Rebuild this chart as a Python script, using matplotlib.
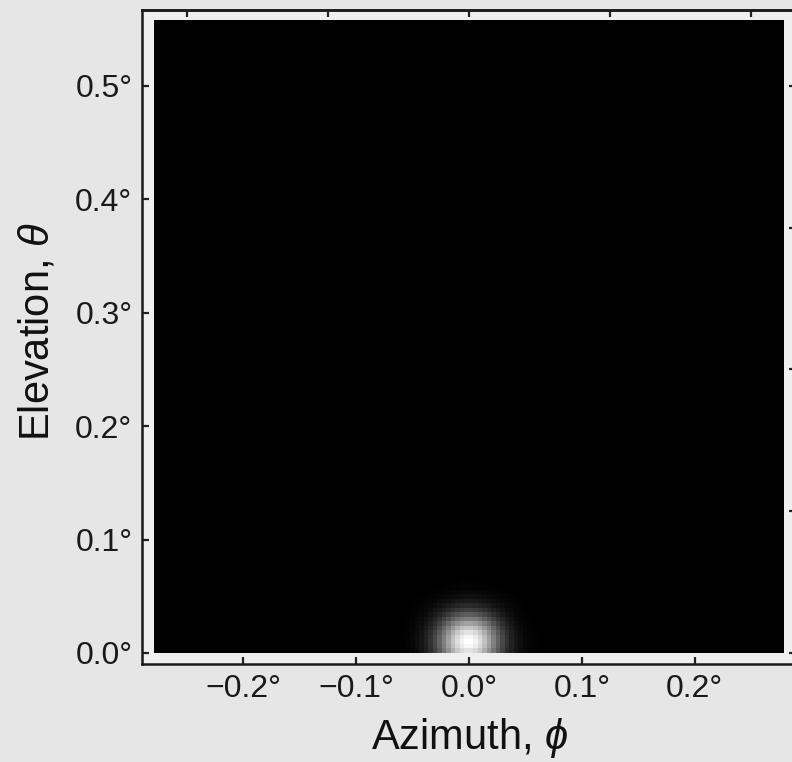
import numpy as np
import matplotlib
matplotlib.use("Agg")
import matplotlib.pyplot as plt
from matplotlib.ticker import FuncFormatter

plt.rcParams['font.family'] = ['Liberation Sans', 'DejaVu Sans']
plt.rcParams['mathtext.fontset'] = 'custom'
plt.rcParams['mathtext.it'] = 'Liberation Sans:italic'
plt.rcParams['mathtext.rm'] = 'Liberation Sans'

# beam spot (degrees)
spot_center = (0.0, 0.008)      # azimuth, elevation
spot_sigma = (0.019, 0.017)
img_extent = [-0.279, 0.279, 0.0, 0.558]
n_pix = 140

x_ticks = [-0.2, -0.1, 0.0, 0.1, 0.2]
y_ticks = [0.0, 0.1, 0.2, 0.3, 0.4, 0.5]
top_ticks = [-0.25, -0.125, 0.0, 0.125, 0.25]
right_ticks = [0.0, 0.125, 0.25, 0.375, 0.5]

phi = np.linspace(img_extent[0], img_extent[1], n_pix)
theta = np.linspace(img_extent[2], img_extent[3], n_pix)
P, T = np.meshgrid(phi, theta)
intensity = np.exp(-0.5 * (((P - spot_center[0]) / spot_sigma[0]) ** 2
                           + ((T - spot_center[1]) / spot_sigma[1]) ** 2))

fig = plt.figure(figsize=(7.92, 7.62), dpi=100, facecolor='#e6e6e6')
W, H = 792, 762
ax = fig.add_axes([142 / W, (H - 664) / H, 654 / W, 654 / H])
ax.set_facecolor('#efefef')

ax.imshow(intensity, cmap='gray', origin='lower', extent=img_extent,
          interpolation='nearest', aspect='auto', vmin=0, vmax=1)
ax.set_xlim(-0.29, 0.29)
ax.set_ylim(-0.0098, 0.567)

deg = FuncFormatter(lambda v, p: ('%.1f°' % v).replace('-', '\u2212'))
ax.set_xticks(x_ticks)
ax.set_yticks(y_ticks)
ax.xaxis.set_major_formatter(deg)
ax.yaxis.set_major_formatter(deg)
ax.tick_params(direction='in', length=5, width=1.6, color='#222222',
               labelsize=23, labelcolor='#1a1a1a', pad=7)

# unlabeled frame ticks on top and right
top = ax.secondary_xaxis('top')
top.set_xticks(top_ticks)
top.tick_params(direction='in', length=5, width=1.6, color='#222222', labeltop=False)
right = ax.secondary_yaxis('right')
right.set_yticks(right_ticks)
right.tick_params(direction='in', length=5, width=1.6, color='#222222', labelright=False)

for ax_ in (ax, top, right):
    for s in ax_.spines.values():
        s.set_linewidth(1.8)
        s.set_color('#1a1a1a')

fig.text(470 / W, 1 - 749 / H, r'Azimuth, $\phi$', ha='center', va='baseline',
         fontsize=30, color='#111111')
fig.text(49 / W, 1 - 332 / H, r'Elevation, $\theta$', ha='center', va='baseline',
         rotation=90, fontsize=30, color='#111111', rotation_mode='anchor')

fig.savefig('out.png', dpi=100, facecolor=fig.get_facecolor())
